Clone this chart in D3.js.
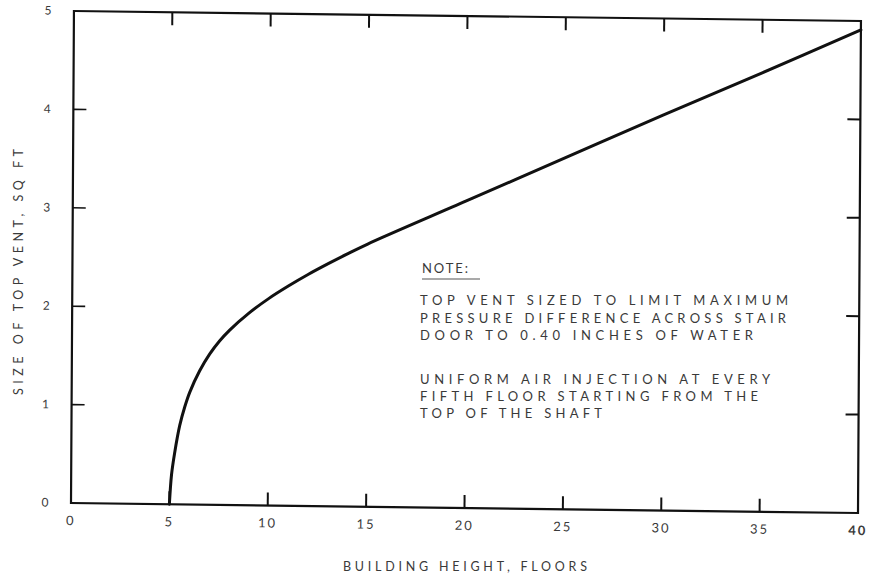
<!DOCTYPE html>
<html>
<head>
<meta charset="utf-8">
<script src="https://cdn.jsdelivr.net/npm/d3@7"></script>
<style>
  html, body { margin: 0; padding: 0; background: #fff; }
  svg { display: block; }
  text { font-family: Lato, "Open Sans", sans-serif; fill: #3a3a3a; }
</style>
</head>
<body>
<svg id="chart" width="871" height="576"></svg>
<script>
// ---- data ----
const floors = [5, 5.1, 5.25, 5.5, 5.75, 6, 6.5, 7, 7.5, 8, 9, 10, 11, 12, 13, 14, 15, 20, 25, 30, 35, 40];
const ventSize = [0, 0.30, 0.52, 0.80, 0.99, 1.14, 1.36, 1.53, 1.665, 1.775, 1.955, 2.105, 2.235, 2.355, 2.465, 2.57, 2.67, 3.12, 3.57, 4.02, 4.46, 4.91];
const xTicks = [0, 5, 10, 15, 20, 25, 30, 35, 40];
const yTicks = [0, 1, 2, 3, 4, 5];
const xTitle = "BUILDING HEIGHT, FLOORS";
const yTitle = "SIZE OF TOP VENT, SQ FT";
const noteTitle = "NOTE:";
const noteLines1 = ["TOP VENT SIZED TO LIMIT MAXIMUM", "PRESSURE DIFFERENCE ACROSS STAIR", "DOOR TO 0.40 INCHES OF WATER"];
const noteLines2 = ["UNIFORM AIR INJECTION AT EVERY", "FIFTH FLOOR STARTING FROM THE", "TOP OF THE SHAFT"];

// ---- layout ----
const L = 71, R = 858, T = 11, B = 503;
const svg = d3.select("#chart");
const x = d3.scaleLinear().domain([0, 40]).range([L, R]);
const y = d3.scaleLinear().domain([0, 5]).range([B, T]);

// slight tilt of the scanned figure
const g = svg.append("g")
  .attr("transform", `translate(${L},${B}) matrix(1,0.0127,-0.006,1,0,0) translate(${-L},${-B})`);

const inner = xTicks.filter(d => d > 0 && d < 40);
const innerY = yTicks.filter(d => d > 0 && d < 5);

// frame
g.append("rect").attr("x", L).attr("y", T).attr("width", R - L).attr("height", B - T)
  .attr("fill", "none").attr("stroke", "#111").attr("stroke-width", 2.2);

// inward ticks
const tl = 13;
g.selectAll(".tb").data(inner).enter().append("line")
  .attr("x1", d => x(d)).attr("x2", d => x(d)).attr("y1", B).attr("y2", B - tl)
  .attr("stroke", "#111").attr("stroke-width", 2);
g.selectAll(".tt").data(inner).enter().append("line")
  .attr("x1", d => x(d)).attr("x2", d => x(d)).attr("y1", T).attr("y2", T + tl)
  .attr("stroke", "#111").attr("stroke-width", 2);
g.selectAll(".tlf").data(innerY).enter().append("line")
  .attr("x1", L).attr("x2", L + tl).attr("y1", d => y(d)).attr("y2", d => y(d))
  .attr("stroke", "#111").attr("stroke-width", 1.6);
g.selectAll(".trt").data(innerY).enter().append("line")
  .attr("x1", R).attr("x2", R - tl).attr("y1", d => y(d)).attr("y2", d => y(d))
  .attr("stroke", "#111").attr("stroke-width", 2);

// tick labels
g.selectAll(".xl").data(xTicks).enter().append("text")
  .attr("x", d => x(d)).attr("y", B + 22)
  .attr("text-anchor", "middle").attr("font-size", 13)
  .attr("letter-spacing", 2)
  .attr("font-weight", d => d === 40 ? 700 : 400)
  .text(d => d);
g.selectAll(".yl").data(yTicks).enter().append("text")
  .attr("x", 45).attr("y", d => y(d) + 4)
  .attr("text-anchor", "middle").attr("font-size", 12)
  .text(d => d);

// curve
const pts = floors.map((f, i) => [f, ventSize[i]]);
g.append("path").datum(pts)
  .attr("fill", "none").attr("stroke", "#111").attr("stroke-width", 3)
  .attr("stroke-linecap", "round").attr("stroke-linejoin", "round")
  .attr("d", d3.line().x(d => x(d[0])).y(d => y(d[1])).curve(d3.curveCatmullRom.alpha(0.5)));

// axis titles
svg.append("text").attr("x", 465).attr("y", 571)
  .attr("text-anchor", "middle").attr("font-size", 12.5)
  .attr("textLength", 244).attr("lengthAdjust", "spacing")
  .text(xTitle);
svg.append("text")
  .attr("transform", "translate(23,272) rotate(-90)")
  .attr("text-anchor", "middle").attr("font-size", 12.5)
  .attr("textLength", 246).attr("lengthAdjust", "spacing")
  .text(yTitle);

// note
const nx = 420;
svg.append("text").attr("x", nx + 2).attr("y", 273).attr("font-size", 13)
  .attr("textLength", 46).attr("lengthAdjust", "spacing").text(noteTitle);
svg.append("line").attr("x1", nx + 2).attr("x2", nx + 60).attr("y1", 279).attr("y2", 279)
  .attr("stroke", "#555").attr("stroke-width", 1.2);
const w1 = [368, 366, 333];
const w2 = [350, 338, 182];
svg.selectAll(".n1").data(noteLines1).enter().append("text")
  .attr("x", nx).attr("y", (d, i) => 305 + i * 17.5).attr("font-size", 13)
  .attr("textLength", (d, i) => w1[i]).attr("lengthAdjust", "spacing")
  .text(d => d);
svg.selectAll(".n2").data(noteLines2).enter().append("text")
  .attr("x", nx).attr("y", (d, i) => 384 + i * 16.8).attr("font-size", 13)
  .attr("textLength", (d, i) => w2[i]).attr("lengthAdjust", "spacing")
  .text(d => d);
</script>
</body>
</html>
